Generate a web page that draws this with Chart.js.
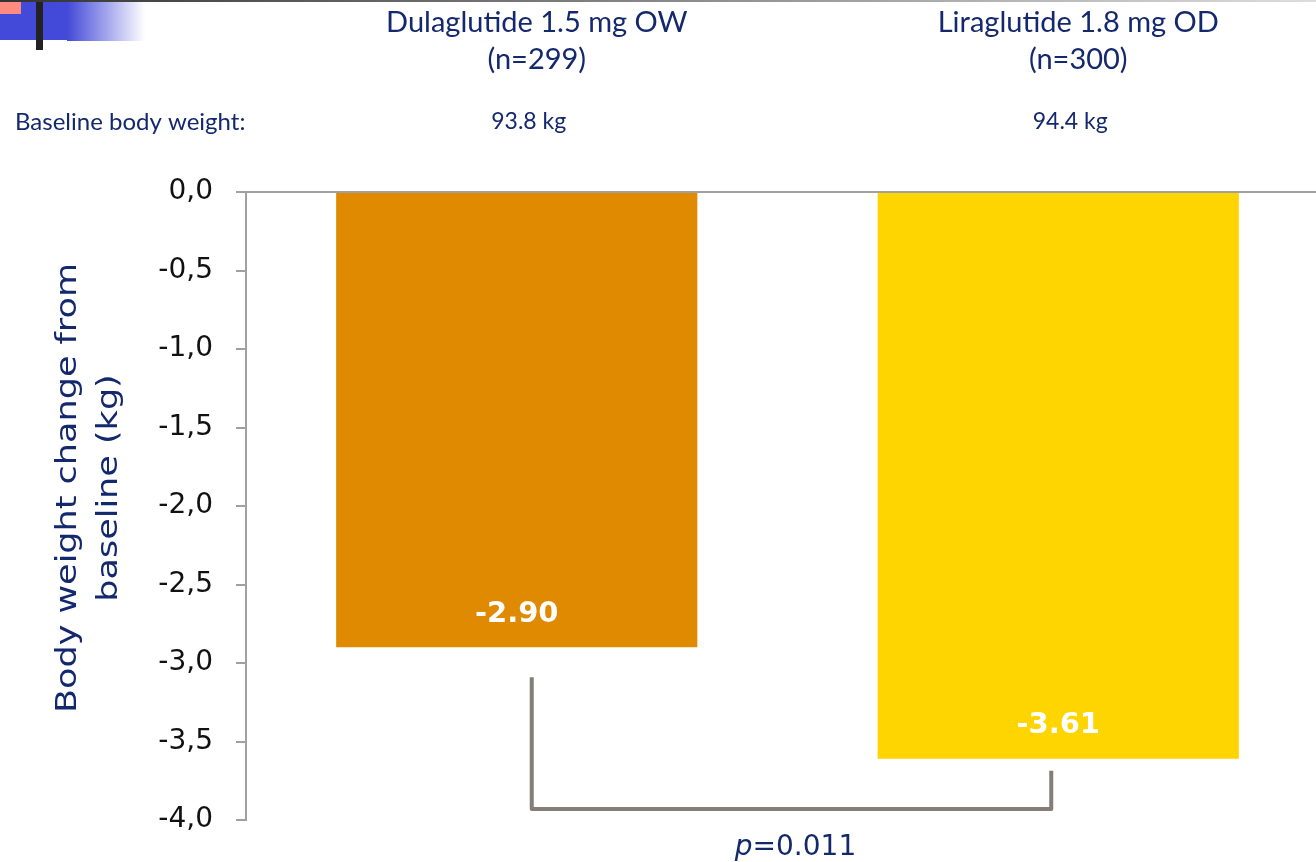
<!DOCTYPE html>
<html>
<head>
<meta charset="utf-8">
<script src="https://cdn.jsdelivr.net/npm/chart.js@4"></script>
<style>
  html, body { margin: 0; padding: 0; background: #ffffff; overflow: hidden; }
  #wrap { position: relative; width: 1330px; height: 862px; }
</style>
</head>
<body>
<div id="wrap"><canvas id="chart" width="1330" height="862"></canvas></div>
<script>
// Treatment arms and results
const arms = ['Dulaglutide 1.5 mg OW', 'Liraglutide 1.8 mg OD'];
const armSizes = ['(n=299)', '(n=300)'];
const baselineWeights = ['93.8 kg', '94.4 kg'];
const weightChange = [-2.90, -3.61];
const barColors = ['#DF8A00', '#FFD500'];
const yTicks = { min: -4, max: 0, step: 0.5 };
const pValue = '0.011';
const bracketLevel = -3.93;

const NAVY = '#14286e';
const SANS = '"DejaVu Sans", Verdana, sans-serif';
const HUMANIST = 'Lato, "Open Sans", sans-serif';

const overlay = {
  id: 'overlay',
  afterDraw(chart) {
    const ctx = chart.ctx;
    const meta = chart.getDatasetMeta(0);
    const bars = meta.data;
    const y = chart.scales.y;

    ctx.save();

    // top rule
    const rule = ctx.createLinearGradient(0, 0, 1316, 0);
    rule.addColorStop(0, '#333333');
    rule.addColorStop(1, '#dddddd');
    ctx.fillStyle = rule;
    ctx.fillRect(0, 0, 1330, 2);

    // corner mark
    const fade = ctx.createLinearGradient(67, 0, 145, 0);
    fade.addColorStop(0, '#4349d8');
    fade.addColorStop(1, 'rgba(67,73,216,0)');
    ctx.fillStyle = fade;
    ctx.fillRect(67, 2, 78, 39);
    ctx.fillStyle = '#4349d8';
    ctx.fillRect(0, 2, 67, 38);
    ctx.fillStyle = '#ff8a80';
    ctx.fillRect(0, 2, 21, 12);
    ctx.fillStyle = '#222222';
    ctx.fillRect(36, 2, 7, 48);

    // column headers and baseline weights
    ctx.fillStyle = NAVY;
    ctx.textAlign = 'center';
    ctx.textBaseline = 'alphabetic';
    bars.forEach((bar, i) => {
      ctx.font = '29px ' + HUMANIST;
      ctx.fillText(arms[i], bar.x + 20, 32);
      ctx.fillText(armSizes[i], bar.x + 20, 69);
      ctx.font = '23px ' + HUMANIST;
      ctx.fillText(baselineWeights[i], bar.x + 12, 129);
    });
    ctx.textAlign = 'left';
    ctx.font = '24px ' + HUMANIST;
    ctx.fillText('Baseline body weight:', 15, 130);

    // y axis title (two lines, rotated)
    ctx.save();
    ctx.translate(0, 488);
    ctx.rotate(-Math.PI / 2);
    ctx.font = '28px ' + SANS;
    ctx.textAlign = 'center';
    ctx.textBaseline = 'alphabetic';
    const w1 = ctx.measureText('Body weight change from').width;
    const sx = 450 / w1;
    ctx.scale(sx, 1);
    ctx.fillText('Body weight change from', 0, 76);
    ctx.fillText('baseline (kg)', 0, 117);
    ctx.restore();

    // value labels inside the bars
    ctx.fillStyle = '#ffffff';
    ctx.font = 'bold 29px ' + SANS;
    ctx.textAlign = 'center';
    ctx.textBaseline = 'middle';
    bars.forEach((bar, i) => {
      ctx.fillText(weightChange[i].toFixed(2), bar.x, bar.y - 33);
    });

    // significance bracket
    const xl = bars[0].x + 15;
    const xr = bars[1].x - 7;
    const yb = y.getPixelForValue(bracketLevel);
    ctx.strokeStyle = '#857e78';
    ctx.lineWidth = 4;
    ctx.lineJoin = 'round';
    ctx.beginPath();
    ctx.moveTo(xl, bars[0].y + 30);
    ctx.lineTo(xl, yb);
    ctx.lineTo(xr, yb);
    ctx.lineTo(xr, bars[1].y + 12);
    ctx.stroke();

    // p value
    ctx.fillStyle = NAVY;
    ctx.textBaseline = 'alphabetic';
    ctx.textAlign = 'left';
    ctx.font = 'italic 28px ' + SANS;
    const pw = ctx.measureText('p').width;
    ctx.font = '28px ' + SANS;
    const rest = '=' + pValue;
    const rw = ctx.measureText(rest).width;
    const cx = (xl + xr) / 2 + 4;
    const x0 = cx - (pw + rw) / 2;
    ctx.font = 'italic 28px ' + SANS;
    ctx.fillText('p', x0, 855);
    ctx.font = '28px ' + SANS;
    ctx.fillText(rest, x0 + pw, 855);

    ctx.restore();
  }
};

new Chart(document.getElementById('chart'), {
  type: 'bar',
  data: {
    labels: arms,
    datasets: [{
      data: weightChange,
      backgroundColor: barColors,
      borderWidth: 0,
      categoryPercentage: 1.0,
      barPercentage: 0.667
    }]
  },
  options: {
    responsive: false,
    animation: false,
    devicePixelRatio: 1,
    layout: { padding: { top: 192, bottom: 42, left: 0, right: 1 } },
    plugins: { legend: { display: false }, tooltip: { enabled: false } },
    scales: {
      x: { display: false },
      y: {
        min: yTicks.min,
        max: yTicks.max,
        afterFit(scale) { scale.width = 246; },
        ticks: {
          stepSize: yTicks.step,
          padding: 23,
          color: '#111111',
          font: { family: SANS, size: 28 },
          callback: v => v.toFixed(1).replace('.', ',')
        },
        grid: {
          color: c => (c.tick && c.tick.value === 0 ? '#a0a0a0' : 'rgba(0,0,0,0)'),
          lineWidth: 2,
          tickColor: '#a0a0a0',
          tickLength: 10
        },
        border: { color: '#a0a0a0', width: 2 }
      }
    }
  },
  plugins: [overlay]
});
</script>
</body>
</html>
